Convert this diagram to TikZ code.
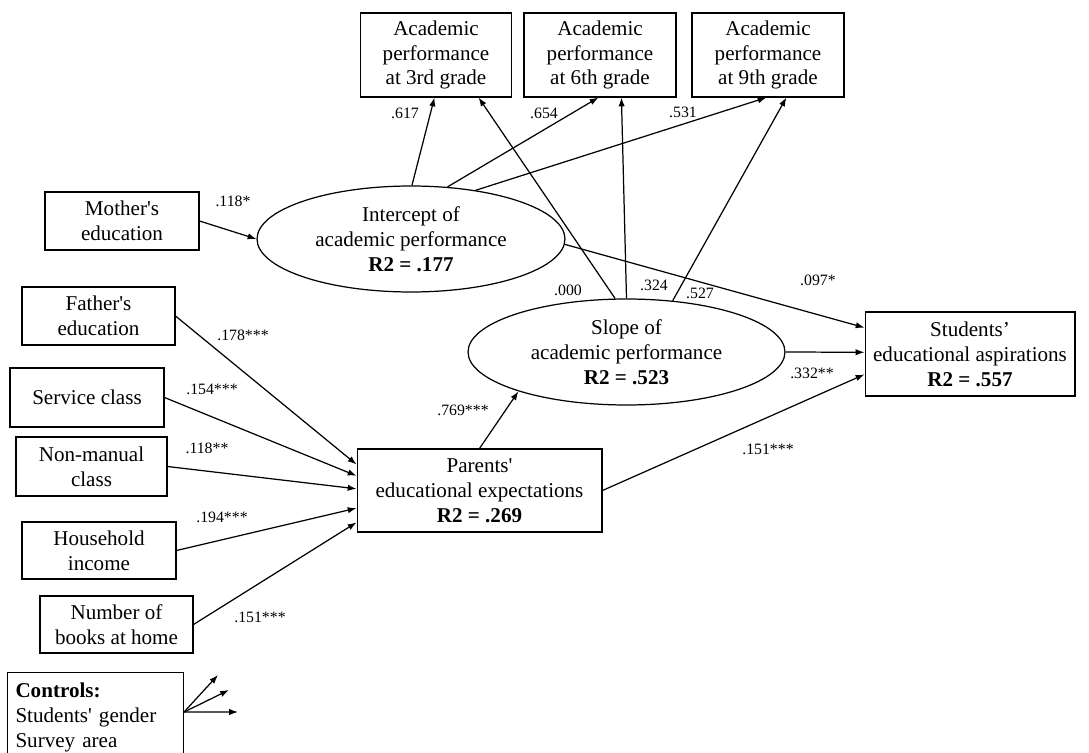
\documentclass[tikz,border=0pt]{standalone}
\usepackage{fontspec}
\setmainfont{Liberation Serif}
\usepackage{tikz}
\usetikzlibrary{arrows.meta, shapes.geometric, calc}
\newcommand{\sq}{\textquotesingle}
\tikzset{
  obsbox/.style={draw, line width=0.6pt, rectangle, inner sep=0pt, align=center,
                 font=\fontsize{12}{14.2}\selectfont},
  latent/.style={draw, line width=0.7pt, ellipse, inner sep=0pt, align=center,
                 font=\fontsize{12}{14.2}\selectfont, minimum height=2.12cm},
  coef/.style={font=\fontsize{9}{10}\selectfont, inner sep=0pt},
  effect/.style={-{Latex[length=5pt,width=3.6pt]}, line width=0.7pt}
}

\begin{document}
\begin{tikzpicture}[x=0.02cm, y=-0.02cm]
\clip (0,0) rectangle (1089,753);

% outcomes of the growth curve
\node[obsbox, minimum width=3.02cm, minimum height=1.68cm] (ap3) at (436,55) {Academic\\performance\\at 3rd grade};
\node[obsbox, minimum width=3.04cm, minimum height=1.68cm] (ap6) at (600,55) {Academic\\performance\\at 6th grade};
\node[obsbox, minimum width=3.04cm, minimum height=1.68cm] (ap9) at (768,55) {Academic\\performance\\at 9th grade};

% latent growth factors
\node[latent, minimum width=6.16cm] (icpt) at (411,239) {Intercept of\\academic performance\\\textbf{R2 = .177}};
\node[latent, minimum width=6.34cm] (slope) at (626.5,352) {Slope of\\academic performance\\\textbf{R2 = .523}};

% family background
\node[obsbox, minimum width=3.08cm, minimum height=1.16cm] (momedu) at (122,221) {Mother\sq s\\education};
\node[obsbox, minimum width=3.06cm, minimum height=1.16cm] (dadedu) at (98.5,316) {Father\sq s\\education};
\node[obsbox, minimum width=3.08cm, minimum height=1.18cm] (svc) at (87,397.5) {Service class};
\node[obsbox, minimum width=3.02cm, minimum height=1.18cm] (nonman) at (91.5,466.5) {Non-manual\\class};
\node[obsbox, minimum width=3.08cm, minimum height=1.14cm] (income) at (99,550.5) {Household\\income};
\node[obsbox, minimum width=3.06cm, minimum height=1.14cm] (books) at (116.5,624.5) {Number of\\books at home};

\node[obsbox, minimum width=4.9cm, minimum height=1.66cm] (parexp) at (479.5,490.5) {Parents\sq\\educational expectations\\\textbf{R2 = .269}};
\node[obsbox, minimum width=4.2cm, minimum height=1.68cm] (stuasp) at (970,354) {Students’\\educational aspirations\\\textbf{R2 = .557}};

\node[obsbox, anchor=north west, minimum width=3.52cm, minimum height=1.8cm, align=left,
      text width=3.2cm, inner xsep=0.16cm] (ctrl) at (7,672) {\textbf{Controls:}\\Students\sq\ gender\\Survey area};
\coordinate (ctrl1) at (218,675);
\coordinate (ctrl2) at (229,690);
\coordinate (ctrl3) at (238,712);

% paths
\draw[effect] (icpt.89) -- ($(ap3.south west)!0.49!(ap3.south east)$);
\draw[effect] (icpt.55) -- ($(ap6.south west)!0.49!(ap6.south east)$);
\draw[effect] (icpt.37) -- ($(ap9.south west)!0.49!(ap9.south east)$);
\draw[effect] (slope.102) -- ($(ap3.south west)!0.78!(ap3.south east)$);
\draw[effect] (slope.90) -- ($(ap6.south west)!0.64!(ap6.south east)$);
\draw[effect] (slope.48) -- ($(ap9.south west)!0.62!(ap9.south east)$);

\draw[effect] (momedu.east) -- (icpt.west);
\draw[effect] (icpt.-2) -- ($(stuasp.north west)!0.19!(stuasp.south west)$);
\draw[effect] (slope.east) -- ($(stuasp.north west)!0.48!(stuasp.south west)$);
\draw[effect] (parexp.east) -- ($(stuasp.north west)!0.74!(stuasp.south west)$);
\draw[effect] (parexp.north) -- (slope.200);

\draw[effect] (dadedu.east) -- ($(parexp.north west)!0.19!(parexp.south west)$);
\draw[effect] (svc.east) -- ($(parexp.north west)!0.325!(parexp.south west)$);
\draw[effect] (nonman.east) -- ($(parexp.north west)!0.48!(parexp.south west)$);
\draw[effect] (income.east) -- ($(parexp.north west)!0.71!(parexp.south west)$);
\draw[effect] (books.east) -- ($(parexp.north west)!0.88!(parexp.south west)$);

\coordinate (ctrlout) at ($(ctrl.north east)!0.44!(ctrl.south east)$);
\draw[effect] (ctrlout) -- (ctrl1);
\draw[effect] (ctrlout) -- (ctrl2);
\draw[effect] (ctrlout) -- (ctrl3);

% coefficients
\node[coef] (c617) at (405,113) {.617};
\node[coef] (c654) at (544,113) {.654};
\node[coef] (c531) at (683,112) {.531};
\node[coef] (c000) at (568,290) {.000};
\node[coef] (c324) at (654,285) {.324};
\node[coef] (c527) at (700,293) {.527};
\node[coef] (c097) at (818,280) {.097*};
\node[coef] (c332) at (812,373) {.332**};
\node[coef] (c151a) at (768,449) {.151***};
\node[coef] (c769) at (463,410) {.769***};
\node[coef] (c118a) at (233,201) {.118*};
\node[coef] (c178) at (243,335) {.178***};
\node[coef] (c154) at (212,389) {.154***};
\node[coef] (c118b) at (207,448) {.118**};
\node[coef] (c194) at (222,517) {.194***};
\node[coef] (c151b) at (260,617) {.151***};
\end{tikzpicture}
\end{document}
